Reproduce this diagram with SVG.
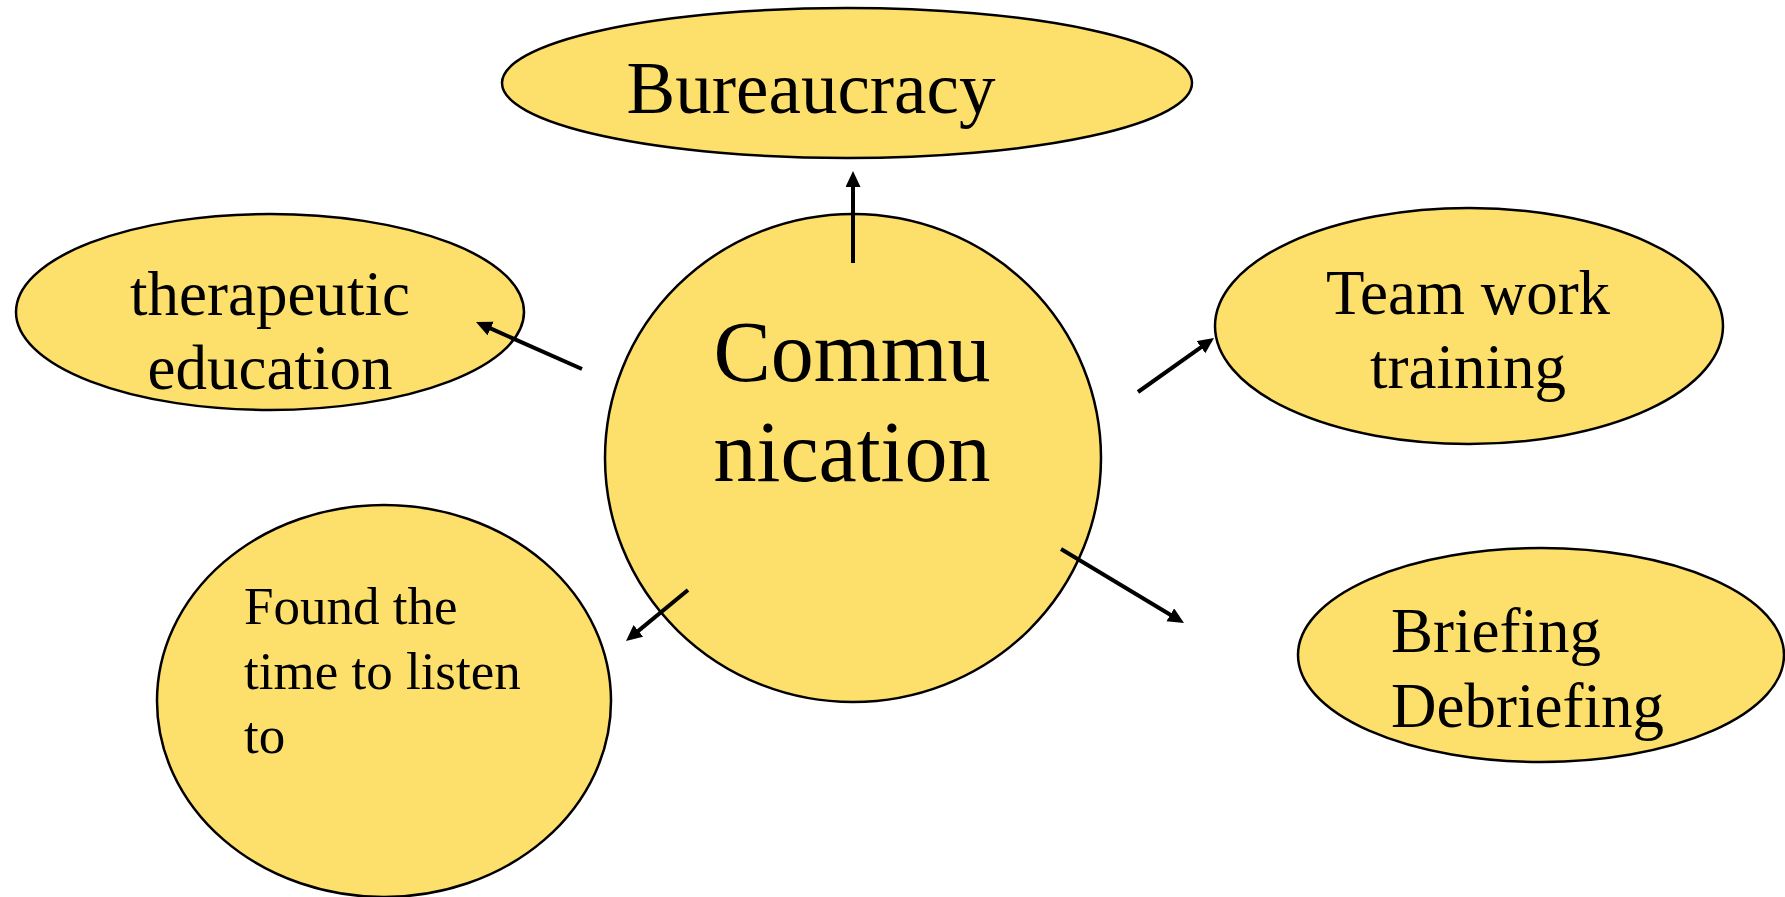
<svg xmlns="http://www.w3.org/2000/svg" width="1785" height="897" viewBox="0 0 1785 897">
<style>
.node{fill:#FDDF6B;stroke:#000;stroke-width:2.5}
.t{font-family:"Liberation Serif","Times New Roman",serif;fill:#000}
.c{stroke:#000;stroke-width:4;fill:none;marker-end:url(#arr)}
</style>
<defs>
<marker id="arr" markerUnits="userSpaceOnUse" markerWidth="18" markerHeight="16" refX="2" refY="7.5" orient="auto">
<path d="M0,0 L16,7.5 L0,15 Z" fill="#000"/>
</marker>
</defs>
<rect width="1785" height="897" fill="#fff"/>
<g id="bureaucracy">
<ellipse class="node" cx="847" cy="83" rx="345" ry="75"/>
<text class="t" x="811" y="113" font-size="73" text-anchor="middle">Bureaucracy</text>
</g>
<g id="communication">
<ellipse class="node" cx="853" cy="458" rx="248" ry="244"/>
<text class="t" font-size="86" text-anchor="middle"><tspan x="852" y="381">Commu</tspan><tspan x="852" y="481">nication</tspan></text>
</g>
<g id="therapeutic">
<ellipse class="node" cx="270" cy="312" rx="254" ry="98"/>
<text class="t" font-size="63" text-anchor="middle"><tspan x="270" y="315">therapeutic</tspan><tspan x="270" y="389">education</tspan></text>
</g>
<g id="teamwork">
<ellipse class="node" cx="1469" cy="326" rx="254" ry="118"/>
<text class="t" font-size="63" text-anchor="middle"><tspan x="1468" y="314">Team work</tspan><tspan x="1468" y="388">training</tspan></text>
</g>
<g id="briefing">
<ellipse class="node" cx="1541" cy="655" rx="243" ry="107"/>
<text class="t" font-size="63"><tspan x="1391" y="652">Briefing</tspan><tspan x="1391" y="727">Debriefing</tspan></text>
</g>
<g id="found">
<ellipse class="node" cx="384" cy="701" rx="227" ry="196"/>
<text class="t" font-size="53"><tspan x="244" y="624">Found the</tspan><tspan x="244" y="689">time to listen</tspan><tspan x="244" y="753">to</tspan></text>
</g>
<g id="connectors">
<line class="c" x1="853" y1="263" x2="853" y2="185"/>
<line class="c" x1="582" y1="369" x2="488.8" y2="327.7"/>
<line class="c" x1="1138" y1="392" x2="1202.6" y2="346.1"/>
<line class="c" x1="1061" y1="549" x2="1172" y2="615.8"/>
<line class="c" x1="688" y1="590" x2="636.8" y2="632.1"/>
</g>
</svg>
